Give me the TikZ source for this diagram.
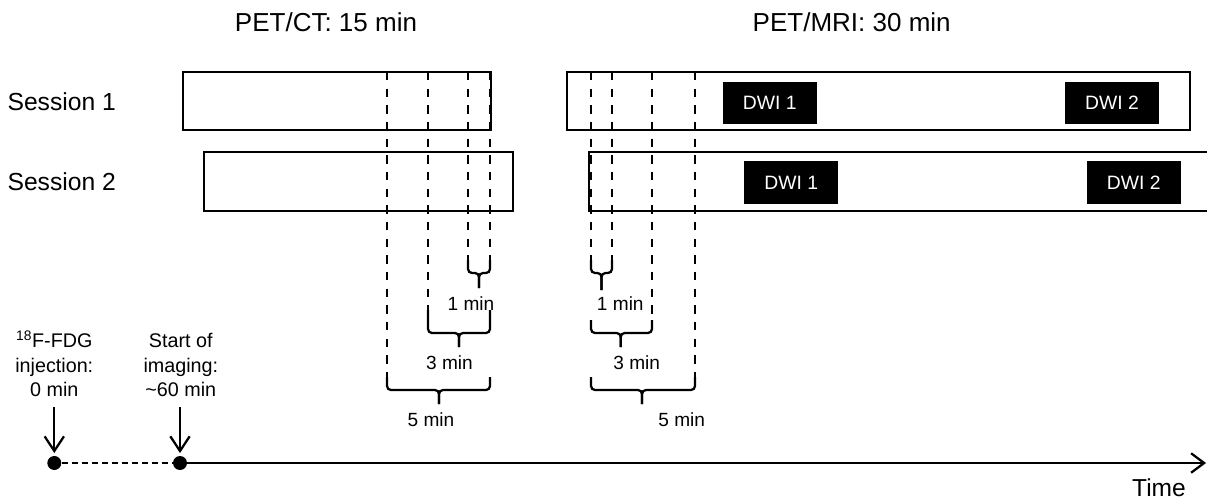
\documentclass[tikz,border=0pt]{standalone}
\usepackage{fontspec}
\setmainfont{Liberation Sans}
\usetikzlibrary{arrows.meta}

% bottom brace: x-left, x-right, x-stem, top, bar, stem tip
\newcommand{\timebrace}[6]{%
  \draw[bracket] (#1,#4) |- (#3,#5) -- (#3,#6);
  \draw[bracket] (#2,#4) |- (#3,#5) -- (#3,#6);
}

\begin{document}
\begin{tikzpicture}[x=0.75pt,y=-0.75pt,
  thick line/.style={line width=1.7pt},
  sessbox/.style={thick line, draw=black},
  guide/.style={thick line, dash pattern=on 6.25pt off 6.25pt},
  bracket/.style={thick line, rounded corners=3pt},
  dwi/.style={fill=black, text=white, minimum width=70.5pt, minimum height=31.9pt,
              inner sep=0pt, font=\fontsize{14.5}{17}\selectfont},
  title/.style={inner sep=0pt, anchor=base, font=\fontsize{19.5}{23}\selectfont},
  rowlabel/.style={inner sep=0pt, anchor=base west, font=\fontsize{18.5}{22}\selectfont},
  durlabel/.style={inner sep=0pt, anchor=base, font=\fontsize{14.3}{17}\selectfont},
  eventlabel/.style={inner sep=0pt, anchor=south, align=center, font=\fontsize{14.8}{18.15}\selectfont},
  dot/.style={circle, fill=black, inner sep=0pt, minimum size=10.5pt},
  downarrow/.style={thick line, -{Straight Barb[length=11pt,width=14.5pt,line width=1.7pt]}},
  timearrow/.style={thick line, -{Straight Barb[length=9.75pt,width=14.6pt,line width=1.7pt]}}
]
\useasboundingbox (0,0) rectangle (1207,499);
\clip (0,0) rectangle (1207,499);

% titles
\node[title] (ctTitle) at (326,31.5) {PET/CT: 15 min};
\node[title] (mrTitle) at (851.7,31.5) {PET/MRI: 30 min};

% row labels
\node[rowlabel] (s1) at (7.3,111) {Session 1};
\node[rowlabel] (s2) at (7.3,190.3) {Session 2};

% PET/CT acquisitions
\draw[sessbox] (183,72) rectangle (491,130);
\draw[sessbox] (204,152) rectangle (513,211);

% PET/MRI acquisitions
\draw[sessbox] (567,72) rectangle (1190,130);
\draw[sessbox] (1215,152) -- (589,152) -- (589,211) -- (1215,211);

% DWI blocks
\node[dwi] (d11) at (769.7,102.9) {DWI 1};
\node[dwi] (d12) at (1112,102.9) {DWI 2};
\node[dwi] (d21) at (791.3,182.5) {DWI 1};
\node[dwi] (d22) at (1133.7,182.5) {DWI 2};

% window guides: PET/CT
\coordinate (c5t) at (387,72);  \coordinate (c5b) at (387,377);
\coordinate (c3t) at (428,72);  \coordinate (c3b) at (428,310);
\coordinate (c1t) at (468,72);  \coordinate (c1b) at (468,260);
\coordinate (c0t) at (490,72);  \coordinate (c0b) at (490,260);
\draw[guide] (c5t) -- (c5b);
\draw[guide] (c3t) -- (c3b);
\draw[guide] (c1t) -- (c1b);
\draw[guide] (c0t) -- (c0b);

% window guides: PET/MRI
\coordinate (m0t) at (591,72);  \coordinate (m0b) at (591,260);
\coordinate (m1t) at (612,72);  \coordinate (m1b) at (612,260);
\coordinate (m3t) at (652,72);  \coordinate (m3b) at (652,320);
\coordinate (m5t) at (695,72);  \coordinate (m5b) at (695,377);
\draw[guide] (m0t) -- (m0b);
\draw[guide] (m1t) -- (m1b);
\draw[guide] (m3t) -- (m3b);
\draw[guide] (m5t) -- (m5b);

% braces and durations: PET/CT
\timebrace{468}{490}{479}{260}{273}{288}
\node[durlabel] (ct1) at (471,310) {1 min};
\timebrace{428}{490}{459}{310}{333}{347}
\node[durlabel] (ct3) at (449.5,369.5) {3 min};
\timebrace{387}{490}{439}{377}{390}{404}
\node[durlabel] (ct5) at (431,426.7) {5 min};

% braces and durations: PET/MRI
\timebrace{591}{612}{601.5}{260}{273}{290}
\node[durlabel] (mr1) at (620.3,310) {1 min};
\timebrace{591}{652}{620.7}{320}{333}{347}
\node[durlabel] (mr3) at (636.7,369.5) {3 min};
\timebrace{591}{695}{642}{377}{390}{404}
\node[durlabel] (mr5) at (681.7,426.7) {5 min};

% time axis
\node[dot] (inj) at (54.3,463) {};
\node[dot] (start) at (180,463) {};
\coordinate (tend) at (1206,463);
\draw[thick line, dash pattern=on 4.5pt off 3pt] (inj) -- (start);
\draw[timearrow] (start.center) -- (tend);
\node[inner sep=0pt, anchor=base, font=\fontsize{18.4}{22}\selectfont] (time) at (1159,496) {Time};

% events
\node[eventlabel] (injText) at (54.3,396.7) {\textsuperscript{18}F-FDG\\injection:\\0 min};
\node[eventlabel] (startText) at (180.8,396.7) {Start of\\imaging:\\\textasciitilde60 min};
\coordinate (injArr) at (54.3,407);
\coordinate (startArr) at (180,407);
\draw[downarrow, shorten >=2pt] (injArr) -- (inj);
\draw[downarrow, shorten >=2pt] (startArr) -- (start);
\end{tikzpicture}
\end{document}
